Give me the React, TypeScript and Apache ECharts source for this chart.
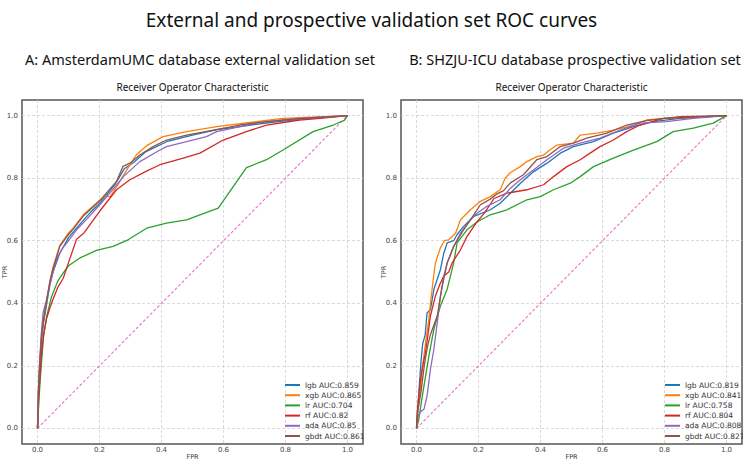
import React, { useEffect, useRef } from "react";
import * as echarts from "echarts";

const mainTitle = "External and prospective validation set ROC curves";
const panelTitles = [
  "A: AmsterdamUMC database external validation set",
  "B: SHZJU-ICU database prospective validation set",
];
const plotTitle = "Receiver Operator Characteristic";
const xAxisTitle = "FPR";
const yAxisTitle = "TPR";
const tickValues = [0, 0.2, 0.4, 0.6, 0.8, 1.0];
const modelNames = ["lgb", "xgb", "lr", "rf", "ada", "gbdt"];
const modelColors = ["#1f77b4", "#ff7f0e", "#2ca02c", "#d62728", "#9467bd", "#8c564b"];
const aucA = ["0.859", "0.865", "0.704", "0.82", "0.85", "0.861"];
const aucB = ["0.819", "0.841", "0.758", "0.804", "0.808", "0.827"];
const chanceLine = [[0, 0], [1, 1]];

// Panel A (AmsterdamUMC) ROC points [FPR, TPR]
const a_lgb = [[0,0],[0.003,0.11],[0.008,0.2],[0.013,0.28],[0.02,0.34],[0.03,0.4],[0.04,0.46],[0.05,0.5],[0.072,0.56],[0.1,0.61],[0.13,0.645],[0.17,0.69],[0.201,0.72],[0.25,0.78],[0.28,0.83],[0.31,0.85],[0.35,0.885],[0.42,0.918],[0.5,0.938],[0.58,0.955],[0.66,0.966],[0.75,0.978],[0.85,0.989],[1,1]];
const a_xgb = [[0,0],[0.003,0.12],[0.0075,0.21],[0.012,0.28],[0.018,0.34],[0.029,0.405],[0.04,0.47],[0.05,0.515],[0.072,0.585],[0.1,0.625],[0.115,0.64],[0.147,0.682],[0.201,0.73],[0.215,0.741],[0.235,0.742],[0.26,0.78],[0.29,0.83],[0.319,0.875],[0.352,0.904],[0.405,0.933],[0.481,0.949],[0.578,0.965],[0.685,0.978],[0.792,0.991],[1,1]];
const a_lr = [[0,0],[0.005,0.1],[0.012,0.2],[0.02,0.3],[0.03,0.36],[0.045,0.42],[0.065,0.47],[0.083,0.497],[0.1,0.52],[0.137,0.545],[0.19,0.569],[0.244,0.582],[0.292,0.603],[0.352,0.64],[0.416,0.656],[0.481,0.667],[0.524,0.683],[0.583,0.704],[0.674,0.834],[0.739,0.859],[0.792,0.89],[0.889,0.949],[0.954,0.97],[0.99,0.985],[1,1]];
const a_rf = [[0,0],[0.005,0.12],[0.013,0.24],[0.02,0.3],[0.029,0.35],[0.04,0.385],[0.05,0.413],[0.065,0.45],[0.083,0.48],[0.1,0.53],[0.126,0.605],[0.15,0.625],[0.201,0.695],[0.255,0.763],[0.298,0.795],[0.35,0.822],[0.395,0.843],[0.47,0.864],[0.524,0.88],[0.599,0.922],[0.674,0.949],[0.739,0.97],[0.846,0.986],[0.93,0.993],[1,1]];
const a_ada = [[0,0],[0.003,0.12],[0.006,0.2],[0.012,0.3],[0.018,0.37],[0.029,0.41],[0.04,0.46],[0.05,0.5],[0.061,0.54],[0.08,0.575],[0.1,0.6],[0.126,0.635],[0.16,0.67],[0.201,0.715],[0.24,0.76],[0.277,0.805],[0.33,0.853],[0.395,0.89],[0.416,0.901],[0.481,0.917],[0.545,0.933],[0.578,0.949],[0.631,0.96],[0.706,0.976],[0.792,0.986],[0.9,0.994],[1,1]];
const a_gbdt = [[0,0],[0.003,0.12],[0.0075,0.21],[0.012,0.28],[0.018,0.34],[0.029,0.405],[0.04,0.47],[0.05,0.51],[0.072,0.582],[0.1,0.62],[0.115,0.637],[0.147,0.678],[0.201,0.728],[0.255,0.79],[0.276,0.838],[0.298,0.848],[0.33,0.874],[0.373,0.901],[0.416,0.922],[0.481,0.938],[0.567,0.954],[0.653,0.97],[0.739,0.981],[0.846,0.991],[1,1]];

// Panel B (SHZJU-ICU) ROC points [FPR, TPR]
const b_lgb = [[0,0],[0.003,0.05],[0.01,0.15],[0.015,0.22],[0.02,0.27],[0.028,0.3],[0.034,0.369],[0.045,0.38],[0.056,0.444],[0.077,0.507],[0.088,0.56],[0.099,0.593],[0.12,0.6],[0.131,0.62],[0.152,0.646],[0.185,0.678],[0.238,0.699],[0.27,0.72],[0.303,0.752],[0.335,0.784],[0.378,0.821],[0.421,0.848],[0.464,0.88],[0.506,0.901],[0.571,0.917],[0.635,0.944],[0.7,0.965],[0.764,0.981],[0.85,0.991],[1,1]];
const b_xgb = [[0,0],[0.002,0.04],[0.01,0.1],[0.02,0.2],[0.03,0.28],[0.04,0.35],[0.045,0.4],[0.054,0.476],[0.061,0.529],[0.077,0.577],[0.09,0.6],[0.104,0.603],[0.126,0.624],[0.142,0.667],[0.174,0.699],[0.206,0.726],[0.238,0.741],[0.27,0.763],[0.286,0.8],[0.303,0.818],[0.335,0.837],[0.356,0.853],[0.388,0.869],[0.41,0.874],[0.43,0.89],[0.453,0.906],[0.506,0.912],[0.528,0.938],[0.582,0.944],[0.635,0.954],[0.7,0.97],[0.742,0.986],[0.796,0.991],[0.9,0.996],[1,1]];
const b_lr = [[0,0],[0.0075,0.029],[0.015,0.08],[0.024,0.135],[0.04,0.231],[0.056,0.317],[0.077,0.391],[0.099,0.445],[0.115,0.509],[0.12,0.53],[0.131,0.593],[0.163,0.635],[0.195,0.66],[0.238,0.683],[0.292,0.699],[0.356,0.731],[0.399,0.741],[0.442,0.763],[0.496,0.784],[0.528,0.805],[0.571,0.837],[0.635,0.864],[0.7,0.89],[0.775,0.917],[0.828,0.949],[0.893,0.96],[0.957,0.976],[1,1]];
const b_rf = [[0,0],[0.003,0.06],[0.013,0.157],[0.02,0.2],[0.029,0.242],[0.037,0.3],[0.045,0.36],[0.061,0.423],[0.075,0.46],[0.088,0.487],[0.104,0.5],[0.115,0.529],[0.142,0.571],[0.163,0.614],[0.195,0.66],[0.22,0.69],[0.25,0.735],[0.292,0.752],[0.356,0.763],[0.41,0.779],[0.442,0.805],[0.485,0.837],[0.528,0.859],[0.56,0.88],[0.592,0.901],[0.635,0.922],[0.678,0.949],[0.721,0.97],[0.796,0.991],[1,1]];
const b_ada = [[0,0],[0.005,0.04],[0.015,0.055],[0.024,0.061],[0.034,0.103],[0.045,0.189],[0.056,0.253],[0.067,0.338],[0.077,0.423],[0.088,0.487],[0.099,0.529],[0.12,0.582],[0.142,0.624],[0.174,0.667],[0.195,0.688],[0.227,0.71],[0.27,0.731],[0.303,0.768],[0.335,0.795],[0.378,0.827],[0.421,0.859],[0.474,0.896],[0.528,0.912],[0.592,0.928],[0.657,0.954],[0.721,0.976],[0.807,0.981],[0.893,0.991],[1,1]];
const b_gbdt = [[0,0],[0.005,0.06],[0.015,0.12],[0.025,0.2],[0.035,0.26],[0.045,0.3],[0.056,0.33],[0.067,0.36],[0.083,0.454],[0.099,0.529],[0.12,0.582],[0.152,0.635],[0.174,0.667],[0.206,0.715],[0.238,0.733],[0.26,0.75],[0.281,0.76],[0.303,0.785],[0.345,0.811],[0.388,0.859],[0.421,0.869],[0.464,0.901],[0.506,0.912],[0.549,0.928],[0.614,0.944],[0.678,0.97],[0.742,0.984],[0.85,0.997],[1,1]];

const curvesA = [a_lgb, a_xgb, a_lr, a_rf, a_ada, a_gbdt];
const curvesB = [b_lgb, b_xgb, b_lr, b_rf, b_ada, b_gbdt];

const FONT = "Noto Sans";
const TICK_FONT = "DejaVu Sans";

export default function App() {
  const ref = useRef<HTMLDivElement>(null);
  useEffect(() => {
    if (!ref.current) return;
    const chart = echarts.init(ref.current, undefined, { renderer: "svg" });

    const namesA = modelNames.map((m, i) => `${m} AUC:${aucA[i]}`);
    const namesB = modelNames.map((m, i) => `${m} AUC:${aucB[i]}`);

    const grids = [
      { left: 22, top: 100, width: 341, height: 344 },
      { left: 401, top: 100, width: 341, height: 344 },
    ].map((g) => ({
      ...g,
      show: true,
      borderColor: "#555",
      borderWidth: 1.5,
      backgroundColor: "transparent",
      containLabel: false,
      outerBoundsMode: "none",
    }));

    const mkAxis = (gi: number, margin: number) => ({
      type: "value",
      gridIndex: gi,
      min: -0.05,
      max: 1.05,
      axisLine: { show: false },
      axisTick: { show: false, customValues: tickValues },
      axisLabel: { customValues: tickValues, formatter: (v: number) => v.toFixed(1), fontSize: 7, color: "#444", fontFamily: TICK_FONT, margin },
      splitLine: { show: true, lineStyle: { color: "#d0d0d0", type: [3, 2], width: 0.8 } },
    });

    const series: any[] = [];
    [curvesA, curvesB].forEach((curves, gi) => {
      const names = gi === 0 ? namesA : namesB;
      series.push({
        type: "line",
        name: "chance" + gi,
        xAxisIndex: gi,
        yAxisIndex: gi,
        data: chanceLine,
        symbol: "none",
        silent: true,
        itemStyle: { color: "#e377c2" },
        lineStyle: { color: "#e377c2", type: [3, 2], width: 1.1 },
        z: 2,
      });
      curves.forEach((data, i) => {
        series.push({
          type: "line",
          name: names[i],
          xAxisIndex: gi,
          yAxisIndex: gi,
          data,
          symbol: "none",
          lineStyle: { color: modelColors[i], width: 1.3 },
          itemStyle: { color: modelColors[i] },
          z: 3,
        });
      });
    });

    const mkLegend = (names: string[], left: number) => ({
      data: names,
      left,
      top: 381,
      orient: "vertical",
      icon: "rect",
      itemWidth: 15,
      itemHeight: 2,
      itemGap: 2.2,
      padding: 0,
      selectedMode: false,
      textStyle: { fontSize: 7.5, color: "#333", fontFamily: TICK_FONT },
    });

    const txt = (text: string, x: number, y: number, size: number, family = FONT, rotation = 0, fill = "#111") => ({
      type: "text",
      x,
      y,
      rotation,
      style: {
        text,
        fontSize: size,
        fontFamily: family,
        fill,
        align: "center",
        verticalAlign: "middle",
        textAlign: "center",
        textVerticalAlign: "middle",
      },
    });

    chart.setOption({
      animation: false,
      backgroundColor: "#ffffff",
      grid: grids,
      xAxis: [mkAxis(0, 2), mkAxis(1, 2)],
      yAxis: [mkAxis(0, 4), mkAxis(1, 4)],
      legend: [mkLegend(namesA, 285), mkLegend(namesB, 665)],
      series,
      graphic: [
        txt(mainTitle, 371.5, 20, 19),
        txt(panelTitles[0], 200, 59, 14.5),
        txt(panelTitles[1], 575, 59, 14.5),
        txt(plotTitle, 192.5, 87, 10),
        txt(plotTitle, 571.5, 87, 10),
        txt(xAxisTitle, 192.5, 457, 6.5, TICK_FONT, 0, "#333"),
        txt(xAxisTitle, 571.5, 457, 6.5, TICK_FONT, 0, "#333"),
        txt(yAxisTitle, 5, 272, 6.5, TICK_FONT, Math.PI / 2, "#333"),
        txt(yAxisTitle, 384, 272, 6.5, TICK_FONT, Math.PI / 2, "#333"),
      ],
    });
    return () => chart.dispose();
  }, []);
  return (
    <div
      ref={ref}
      style={{ position: "fixed", left: 0, top: 0, width: 743, height: 462 }}
    />
  );
}
